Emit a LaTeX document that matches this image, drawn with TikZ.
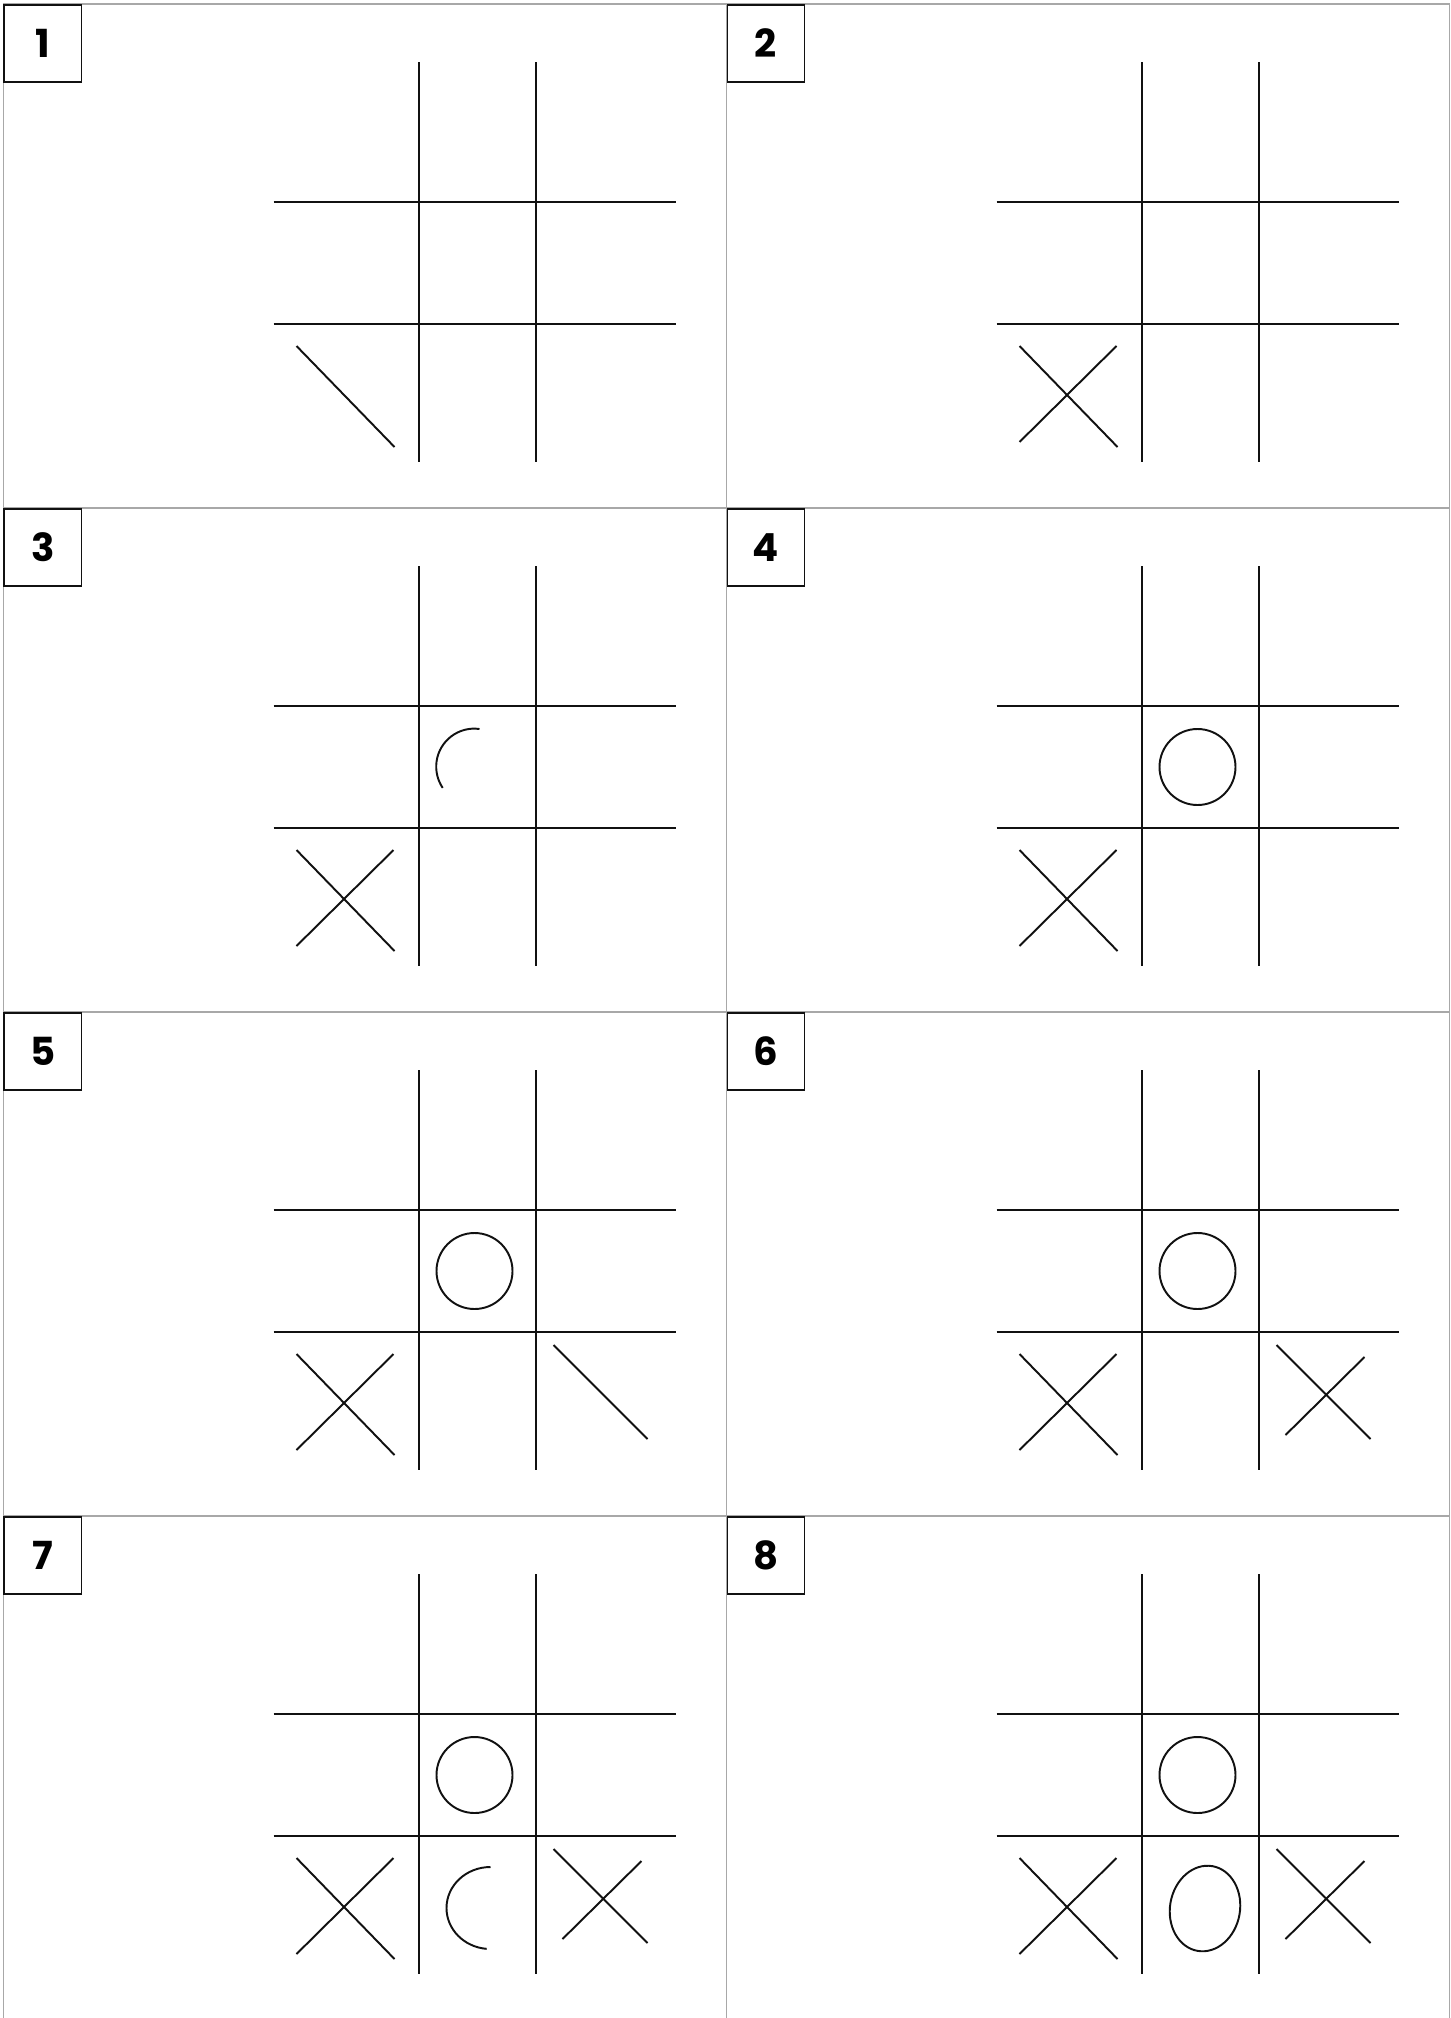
\documentclass[tikz,border=0pt]{standalone}
\usepackage{fontspec}
\setsansfont{Poppins}
\usetikzlibrary{positioning}
\definecolor{PanelGray}{HTML}{A8A8A8}
\definecolor{InkBlack}{HTML}{111111}

\begin{document}
\begin{tikzpicture}[
    x=0.01cm, y=0.01cm,
    onpanel/.style={shift={({3.5+723*mod(#1-1,2)},{-4-504*div(#1-1,2)})}},
    panel/.style={draw=PanelGray, line width=0.45pt},
    board/.style={draw=InkBlack, line width=0.55pt},
    stroke/.style={draw=InkBlack, line width=0.55pt},
    stepnum/.style={
        rectangle, draw=InkBlack, fill=white, line width=0.45pt,
        minimum size=0.77cm, inner sep=0pt, anchor=north west,
        font=\fontsize{11}{13}\selectfont\bfseries\sffamily
    }
]
    \useasboundingbox (0,0) rectangle (1450,-2018);

    % Panels, boards and step labels
    \foreach \i in {1,...,8} {
        \begin{scope}[onpanel=\i]
            \draw[panel] (0,0) rectangle (723,-504);
            \draw[board] (415.5,-58) -- (415.5,-458);
            \draw[board] (532.5,-58) -- (532.5,-458);
            \draw[board] (270,-198) -- (672,-198);
            \draw[board] (270,-320) -- (672,-320);
            \node[stepnum] (step\i) at (0,0) {\i};
        \end{scope}
    }

    % Step 1: first stroke of X
    \draw[stroke, onpanel=1] (293,-342) -- (391,-443);

    % X in the bottom left cell
    \foreach \i in {2,...,8} {
        \begin{scope}[onpanel=\i]
            \draw[stroke] (293,-342) -- (391,-443);
            \draw[stroke] (293,-438) -- (390,-342);
        \end{scope}
    }

    % Step 3: O being drawn
    \draw[stroke, onpanel=3] (476,-221) arc[start angle=82, end angle=214, radius=38];

    % O in the centre cell
    \foreach \i in {4,...,8} {
        \draw[stroke, onpanel=\i] (471,-259) circle[radius=38];
    }

    % Step 5: first stroke of second X
    \draw[stroke, onpanel=5] (550,-333) -- (644,-427);

    % X in the bottom right cell
    \foreach \i in {6,7,8} {
        \begin{scope}[onpanel=\i]
            \draw[stroke] (550,-333) -- (644,-427);
            \draw[stroke] (559,-423) -- (638,-345);
        \end{scope}
    }

    % Step 7: second O being drawn
    \draw[stroke, onpanel=7] (487,-351) arc[start angle=90, end angle=265, x radius=44, y radius=41];

    % Step 8: second O finished
    \begin{scope}[onpanel=8]
        \draw[stroke, rotate around={-10:(478.5,-392.5)}] (478.5,-392.5) ellipse[x radius=35, y radius=43];
    \end{scope}

\end{tikzpicture}
\end{document}
